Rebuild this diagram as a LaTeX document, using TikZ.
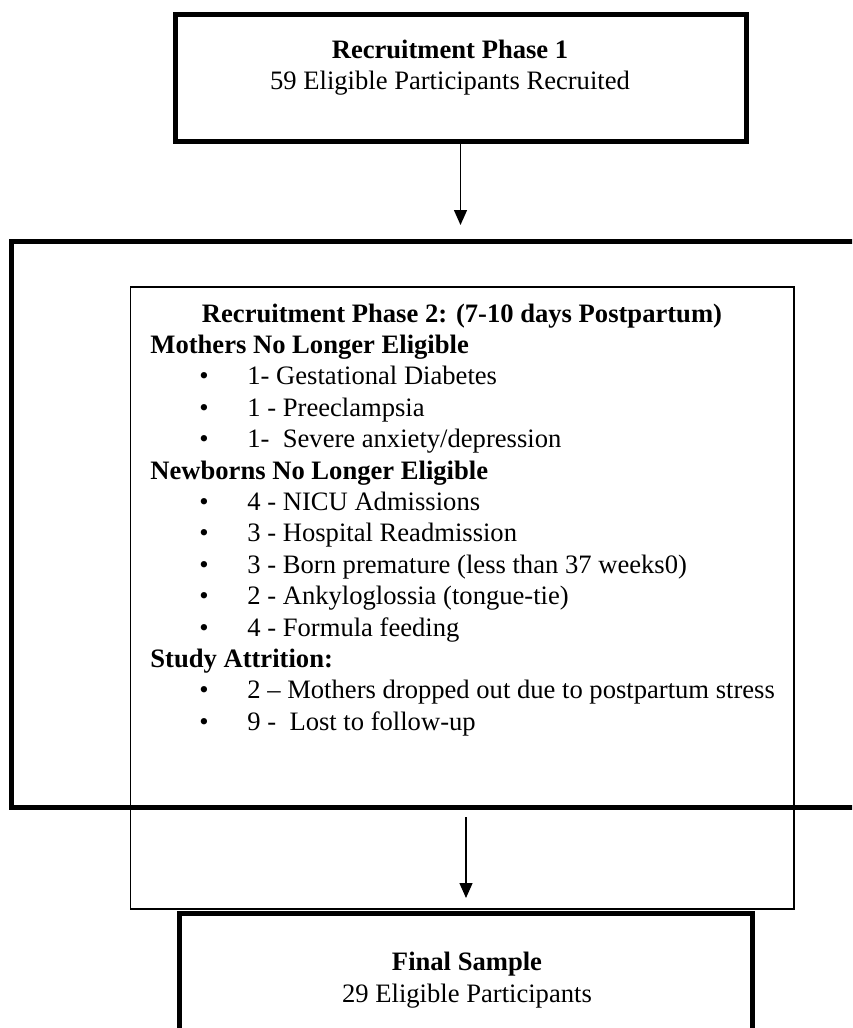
\documentclass[tikz,border=0pt]{standalone}
\usepackage{fontspec}
\setmainfont{Liberation Serif}
\usetikzlibrary{arrows.meta}
\begin{document}
\begin{tikzpicture}[x=0.5pt,y=-0.5pt,
  thickbox/.style={draw, line width=2.5pt, rectangle, inner sep=0pt},
  thinbox/.style={draw, line width=0.75pt, rectangle, inner sep=0pt},
  conn/.style={line width=0.65pt, -{Triangle[length=7.5pt,width=6.5pt]}},
  txt/.style={inner sep=0pt, font=\fontsize{13.3}{15.5}\selectfont},
  hdr/.style={txt, anchor=base west},
  itm/.style={txt, anchor=base west},
  bul/.style={txt, anchor=base},
  ]
\useasboundingbox (0,0) rectangle (852,1028);
\clip (0,0) rectangle (852,1028);
% boxes
\node[thickbox, minimum width=571*0.5pt, minimum height=127*0.5pt] (p1) at (460.5,77.5) {};
\node[thickbox, minimum width=889*0.5pt, minimum height=565.8*0.5pt] (p2) at (455.5,524.6) {};
\node[thinbox, minimum width=663.5*0.5pt, minimum height=622*0.5pt] (inner) at (462.25,598) {};
\node[thickbox, minimum width=573*0.5pt, minimum height=156.5*0.5pt] (fin) at (465.5,991.75) {};
% top box text
\node[txt, anchor=base] (t1a) at (450,58) {\bfseries Recruitment Phase 1};
\node[txt, anchor=base] (t1b) at (450,89) {59 Eligible Participants Recruited};
% inner text
\node[txt, anchor=base] (h0) at (462,322) {\bfseries Recruitment Phase 2: (7-10 days Postpartum)};
\node[hdr] (h1) at (150,353.4) {\bfseries Mothers No Longer Eligible};
\node[bul] (b1) at (204,384.8) {•};
\node[itm] (i1) at (247,384.8) {1- Gestational Diabetes};
\node[bul] (b2) at (204,416.2) {•};
\node[itm] (i2) at (247,416.2) {1 - Preeclampsia};
\node[bul] (b3) at (204,447.6) {•};
\node[itm] (i3) at (247,447.6) {1-\ \ Severe anxiety/depression};
\node[hdr] (h2) at (150,479) {\bfseries Newborns No Longer Eligible};
\node[bul] (b4) at (204,510.4) {•};
\node[itm] (i4) at (247,510.4) {4 - NICU Admissions};
\node[bul] (b5) at (204,541.8) {•};
\node[itm] (i5) at (247,541.8) {3 - Hospital Readmission};
\node[bul] (b6) at (204,573.2) {•};
\node[itm] (i6) at (247,573.2) {3 - Born premature (less than 37 weeks0)};
\node[bul] (b7) at (204,604.6) {•};
\node[itm] (i7) at (247,604.6) {2 - Ankyloglossia (tongue-tie)};
\node[bul] (b8) at (204,636) {•};
\node[itm] (i8) at (247,636) {4 - Formula feeding};
\node[hdr] (h3) at (150,667.4) {\bfseries Study Attrition:};
\node[bul] (b9) at (204,698.8) {•};
\node[itm] (i9) at (247,698.8) {2 – Mothers dropped out due to postpartum stress};
\node[bul] (b10) at (204,730.2) {•};
\node[itm] (i10) at (247,730.2) {9 -\ \ Lost to follow-up};
% final text
\node[txt, anchor=base] (f1) at (467,970) {\bfseries Final Sample};
\node[txt, anchor=base] (f2) at (467,1002) {29 Eligible Participants};
% connectors
\coordinate (a1) at (460.5,225);
\coordinate (a2s) at (466,817);
\coordinate (a2e) at (466,898);
\draw[conn] (p1.south) -- (a1);
\draw[conn] (a2s) -- (a2e);
\end{tikzpicture}
\end{document}
